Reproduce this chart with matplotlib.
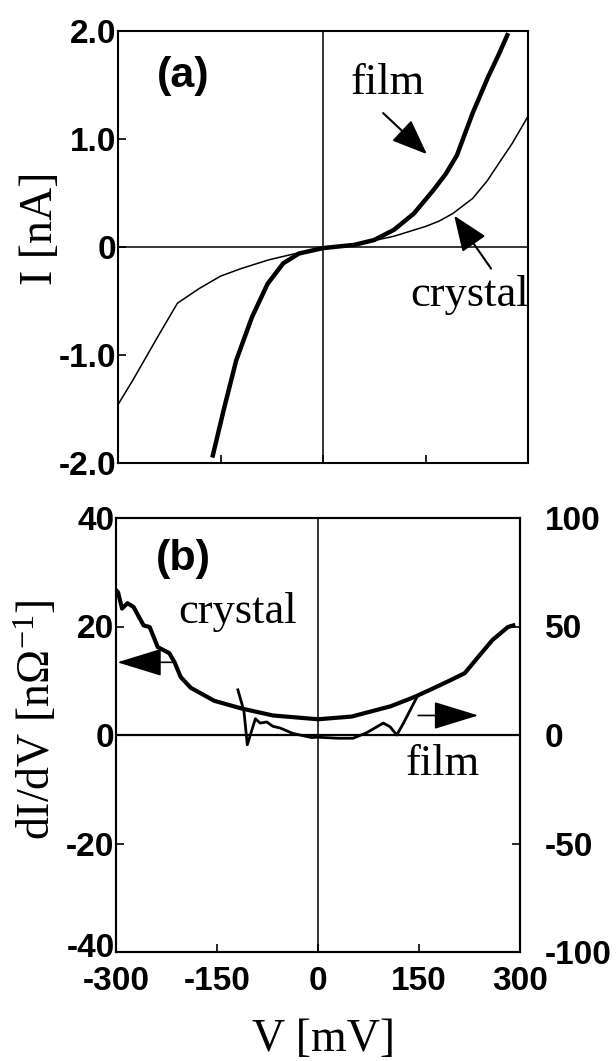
import numpy as np
import matplotlib
matplotlib.use('Agg')
import matplotlib.pyplot as plt
from matplotlib.transforms import ScaledTranslation

# (a) I-V curves, V in mV, I in nA
film_iv_v = [-162, -145, -127, -104, -81, -58, -35, 0, 46, 75, 104, 133, 162, 180, 196, 219, 242, 257, 271]
film_iv_i = [-1.95, -1.5, -1.05, -0.65, -0.34, -0.15, -0.06, -0.01, 0.02, 0.065, 0.16, 0.31, 0.53, 0.68,
             0.85, 1.24, 1.58, 1.78, 1.98]
crys_iv_v = [-300, -278, -239, -213, -180, -150, -120, -80, -40, 0, 46, 104, 150, 170, 190, 219, 240, 260, 277, 300]
crys_iv_i = [-1.46, -1.23, -0.80, -0.52, -0.38, -0.27, -0.2, -0.12, -0.06, -0.02, 0.02, 0.10, 0.19, 0.24,
             0.31, 0.45, 0.61, 0.80, 0.96, 1.21]

# (b) dI/dV; crystal on left axis [nOhm^-1], film on right axis
crys_g_v = [-300, -297, -291, -283, -274, -259, -250, -238, -221, -213, -204, -189, -154, -114, -67, 0,
            50, 108, 143, 166, 195, 218, 236, 259, 282, 290]
crys_g = [26.7, 26.3, 23.3, 24.3, 23.6, 20.2, 19.9, 16.2, 15.1, 13.4, 10.7, 8.7, 6.3, 4.9, 3.6, 2.9,
          3.4, 5.3, 7.0, 8.3, 10.0, 11.4, 14.1, 17.5, 19.9, 20.2]
film_g_v = [-119, -110, -105, -93, -86, -76, -67, -56, -38, -27, -9, -2, 30, 52, 72, 97, 107, 117, 127, 137, 147]
film_g = [20.8, 11.0, -4.5, 7.5, 5.5, 6.0, 4.0, 3.2, 0.8, 0.0, -1.2, -1.0, -1.5, -1.5, 1.0, 5.5, 3.8, 0.0, 5.5, 11.5, 17.5]

W, H = 616, 1061
serif = 'Liberation Serif'
sans = 'Liberation Sans'
plt.rcParams['axes.unicode_minus'] = False
plt.rcParams['mathtext.fontset'] = 'custom'
plt.rcParams['mathtext.rm'] = serif
plt.rcParams['mathtext.it'] = serif + ':italic'

fig = plt.figure(figsize=(W / 100, H / 100), dpi=100)


def frac(x0, y0, x1, y1):
    return [x0 / W, 1 - y1 / H, (x1 - x0) / W, (y1 - y0) / H]


def style(ax):
    for s in ax.spines.values():
        s.set_linewidth(1.5)
    ax.tick_params(direction='in', length=6, width=1.2, labelsize=24, pad=2)
    for lab in ax.get_xticklabels() + ax.get_yticklabels():
        lab.set_fontfamily(sans)
        lab.set_fontweight('bold')


# ---- panel (a)
ax1 = fig.add_axes(frac(118, 31, 528, 463))
ax1.plot(crys_iv_v, crys_iv_i, color='k', lw=1.1)
ax1.plot(film_iv_v, film_iv_i, color='k', lw=3.2, solid_capstyle='butt')
ax1.axhline(0, color='k', lw=1.1)
ax1.axvline(0, color='k', lw=1.1)
ax1.set_xlim(-300, 300)
ax1.set_ylim(-2, 2)
ax1.set_xticks([-150, 0, 150])
ax1.set_xticklabels([])
ax1.set_yticks([-2, -1, 0, 1, 2])
ax1.set_yticklabels(['-2.0', '-1.0', '0', '1.0', '2.0'])
style(ax1)
ax1.tick_params(axis='y', pad=1)

ax1.text(-205, 1.58, '(a)', fontsize=31, fontweight='bold', family=sans, ha='center', va='center')
ax1.text(95, 1.52, 'film', fontsize=32, family=serif, ha='center', va='center')
ax1.text(302, -0.55, 'crystal', fontsize=32, family=serif, ha='right', va='baseline', clip_on=False)
ax1.annotate('', xy=(152, 0.86), xytext=(88, 1.24),
             arrowprops=dict(arrowstyle='-|>,head_length=1.0,head_width=0.4', mutation_scale=22,
                             lw=1.5, color='k', shrinkA=0, shrinkB=0))
ax1.annotate('', xy=(192, 0.29), xytext=(246, -0.2),
             arrowprops=dict(arrowstyle='-|>,head_length=1.0,head_width=0.4', mutation_scale=22,
                             lw=1.5, color='k', shrinkA=0, shrinkB=0))

# ---- panel (b)
ax2 = fig.add_axes(frac(116, 518, 520, 952))
ax2.plot(crys_g_v, crys_g, color='k', lw=3.0)
ax2.axhline(0, color='k', lw=1.6)
ax2.axvline(0, color='k', lw=1.1)
ax2.set_xlim(-300, 300)
ax2.set_ylim(-40, 40)
ax2.set_xticks([-300, -150, 0, 150, 300])
ax2.set_yticks([-40, -20, 0, 20, 40])
style(ax2)
ax2.tick_params(axis='x', pad=10)
ax2.tick_params(axis='y', pad=1)
# lift the bottom "-40" a little so it clears "-300", as in the original
lab40 = ax2.get_yticklabels()[0]
lab40.set_transform(lab40.get_transform() + ScaledTranslation(0, 0.07, fig.dpi_scale_trans))

ax3 = ax2.twinx()
ax3.plot(film_g_v, film_g, color='k', lw=2.0)
ax3.set_ylim(-100, 100)
ax3.set_yticks([-100, -50, 0, 50, 100])
style(ax3)
ax3.tick_params(axis='y', pad=18)

ax2.text(-200, 32.4, '(b)', fontsize=31, fontweight='bold', family=sans, ha='center', va='center')
ax2.text(-120, 22.6, 'crystal', fontsize=32, family=serif, ha='center', va='center')
ax2.text(186, -5.3, 'film', fontsize=32, family=serif, ha='center', va='center')
ax2.annotate('', xy=(-298, 13.4), xytext=(-212, 13.4),
             arrowprops=dict(arrowstyle='-|>,head_length=1.3,head_width=0.4', mutation_scale=22,
                             lw=1.2, color='k', shrinkA=0, shrinkB=0))
ax2.annotate('', xy=(238, 3.6), xytext=(149, 3.6),
             arrowprops=dict(arrowstyle='-|>,head_length=1.3,head_width=0.4', mutation_scale=22,
                             lw=1.2, color='k', shrinkA=0, shrinkB=0))

# axis labels
fig.text(41 / W, 1 - 228 / H, 'I [nA]', rotation=90, fontsize=33, family=serif, ha='center', va='center')
fig.text(37 / W, 1 - 720 / H, r'dI/dV [n$\Omega^{-1}$]', rotation=90, fontsize=33, family=serif,
         ha='center', va='center')
fig.text(323 / W, 1 - 1040 / H, 'V [mV]', fontsize=33, family=serif, ha='center', va='center')

fig.savefig('out.png', dpi=100)
